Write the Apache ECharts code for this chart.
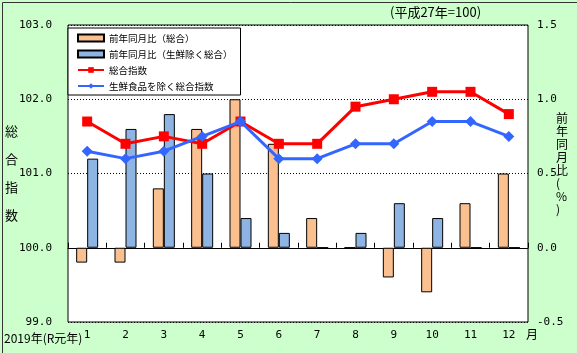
<!DOCTYPE html>
<html>
<head>
<meta charset="utf-8">
<script src="https://cdn.jsdelivr.net/npm/echarts@6/dist/echarts.min.js"></script>
<style>
  html, body { margin: 0; padding: 0; background: #ccffcc; }
  #main { width: 577px; height: 353px; }
</style>
</head>
<body>
<div id="main"></div>
<script>
// 月
var months = ['1', '2', '3', '4', '5', '6', '7', '8', '9', '10', '11', '12'];
// 前年同月比（%）
var yoyTotal = [-0.1, -0.1, 0.4, 0.8, 1.0, 0.7, 0.2, 0, -0.2, -0.3, 0.3, 0.5];
var yoyExFresh = [0.6, 0.8, 0.9, 0.5, 0.2, 0.1, 0, 0.1, 0.3, 0.2, 0, 0];
// 指数（平成27年=100）
var idxTotal = [101.7, 101.4, 101.5, 101.4, 101.7, 101.4, 101.4, 101.9, 102.0, 102.1, 102.1, 101.8];
var idxExFresh = [101.3, 101.2, 101.3, 101.5, 101.7, 101.2, 101.2, 101.4, 101.4, 101.7, 101.7, 101.5];

var FONT = '"Noto Sans CJK JP", sans-serif';
var MONO = '"DejaVu Sans Mono", monospace';

var myChart = echarts.init(document.getElementById('main'));

var option = {
  backgroundColor: '#ccffcc',
  animation: false,
  textStyle: { fontFamily: FONT, color: '#000' },
  grid: {
    left: 68, right: 49, top: 25, bottom: 31,
    show: true, backgroundColor: '#fff', borderColor: '#000', borderWidth: 1
  },
  legend: {
    orient: 'vertical',
    left: 68, top: 28,
    padding: [4, 8, 3, 9],
    itemGap: 4,
    itemWidth: 26, itemHeight: 7,
    backgroundColor: '#fff',
    borderColor: '#000', borderWidth: 1, borderRadius: 0,
    textStyle: { fontSize: 9.5, fontFamily: FONT, color: '#000', lineHeight: 12 },
    data: [
      { name: '前年同月比（総合）', icon: 'rect' },
      { name: '前年同月比（生鮮除く総合）', icon: 'rect' },
      { name: '総合指数' },
      { name: '生鮮食品を除く総合指数' }
    ]
  },
  xAxis: [
    {
      type: 'category', data: months, position: 'bottom',
      axisLine: { show: false }, axisTick: { show: false },
      axisLabel: { fontFamily: MONO, fontSize: 11, color: '#000', margin: 8 }
    },
    {
      type: 'category', data: months, gridIndex: 0,
      axisLine: { show: true, onZero: true, onZeroAxisIndex: 1, lineStyle: { color: '#000', width: 1 } },
      axisTick: { show: true, length: 5, lineStyle: { color: '#000' } },
      axisLabel: { show: false }, splitLine: { show: false }
    }
  ],
  yAxis: [
    {
      type: 'value', min: 99, max: 103, interval: 1,
      axisLine: { show: false }, axisTick: { show: false },
      axisLabel: {
        fontFamily: MONO, fontSize: 11, color: '#000', margin: 16,
        formatter: function (v) { return v.toFixed(1); }
      },
      splitLine: { show: true, lineStyle: { color: '#000', type: [1, 2], width: 1 } }
    },
    {
      type: 'value', min: -0.5, max: 1.5, interval: 0.5,
      axisLine: { show: false }, axisTick: { show: false },
      axisLabel: {
        fontFamily: MONO, fontSize: 11, color: '#000', margin: 9,
        formatter: function (v) { return v.toFixed(1); }
      },
      splitLine: { show: false }
    }
  ],
  series: [
    {
      name: '前年同月比（総合）', type: 'bar', xAxisIndex: 1, yAxisIndex: 1,
      data: yoyTotal, barWidth: 11, barGap: '0%',
      itemStyle: { color: '#fac090', borderColor: '#000', borderWidth: 1 }
    },
    {
      name: '前年同月比（生鮮除く総合）', type: 'bar', xAxisIndex: 1, yAxisIndex: 1,
      data: yoyExFresh, barWidth: 11, barGap: '0%',
      itemStyle: { color: '#8db4e2', borderColor: '#000', borderWidth: 1 }
    },
    {
      name: '総合指数', type: 'line', xAxisIndex: 0, yAxisIndex: 0,
      data: idxTotal, symbol: 'rect', symbolSize: 10, z: 5,
      lineStyle: { color: '#ff0000', width: 3 },
      itemStyle: { color: '#ff0000' }
    },
    {
      name: '生鮮食品を除く総合指数', type: 'line', xAxisIndex: 0, yAxisIndex: 0,
      data: idxExFresh, symbol: 'diamond', symbolSize: 11, z: 6,
      lineStyle: { color: '#3366ff', width: 3 },
      itemStyle: { color: '#3366ff' }
    }
  ],
  graphic: [
    { type: 'rect', left: 0, top: 0, shape: { width: 576, height: 352 }, style: { fill: null, stroke: '#333', lineWidth: 1 }, silent: true },
    { type: 'text', left: 390, top: 6, style: { text: '(平成27年=100)', font: '13px ' + FONT, fill: '#000' } },
    { type: 'text', left: 4, top: 332, style: { text: '2019年(R元年)', font: '12px ' + FONT, fill: '#000' } },
    { type: 'text', left: 526, top: 328, style: { text: '月', font: '12px ' + FONT, fill: '#000' } },
    { type: 'text', left: 5, top: 117, style: { text: '総\n合\n指\n数', font: '13px ' + FONT, lineHeight: 28, fill: '#000' } },
    { type: 'text', left: 556, top: 112, style: { text: '前\n年\n同\n月\n比\n(\n%\n)', font: '12px ' + FONT, lineHeight: 13, fill: '#000' } }
  ]
};

myChart.setOption(option);
</script>
</body>
</html>
